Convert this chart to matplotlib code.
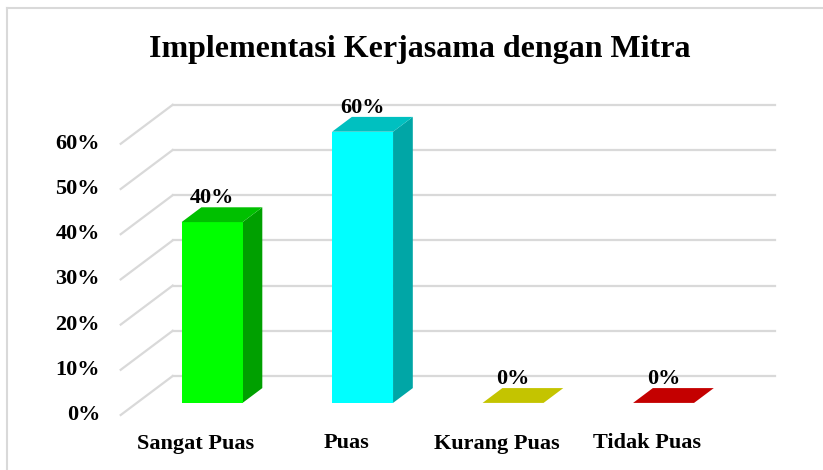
import matplotlib
matplotlib.use("Agg")
import matplotlib.pyplot as plt
from matplotlib.patches import Polygon
from matplotlib.lines import Line2D

# ---- data ----
categories = ["Sangat Puas", "Puas", "Kurang Puas", "Tidak Puas"]
values = [40, 60, 0, 0]
labels = ["40%", "60%", "0%", "0%"]
tick_values = [0, 10, 20, 30, 40, 50, 60]
tick_labels = ["0%", "10%", "20%", "30%", "40%", "50%", "60%"]
title = "Implementasi Kerjasama dengan Mitra"

# ---- style ----
front_colors = ["#00ff00", "#00ffff", "#c8c800", "#e00000"]
side_colors = ["#00a000", "#00a6a6", "#a0a000", "#a00000"]
top_colors = ["#00c000", "#00c0c0", "#c4c400", "#c40000"]
grid_color = "#d9d9d9"
FONT = "Liberation Serif"
FS = 16

W, H = 823, 470
fig = plt.figure(figsize=(W / 100, H / 100), dpi=100)
ax = fig.add_axes([0, 0, 1, 1])

# pixel layout of the plot (floor front-left corner, scales)
X0, Y0 = 120.7, 415.0       # px of (cat 0, value 0, depth 0)
PX_CAT = 150.5              # px per category
PX_PCT = 4.52               # px per percent
ax.set_xlim(-X0 / PX_CAT, (W - X0) / PX_CAT)
ax.set_ylim((Y0 - H) / PX_PCT, Y0 / PX_PCT)
ax.axis("off")

DX = 52.0 / PX_CAT          # depth offset in category units
DY = 39.0 / PX_PCT          # depth offset in percent units
n = len(categories)


def P(x, v, d):
    return (x + d * DX, v + d * DY)


# gridlines: back wall + left side wall
for v in tick_values:
    xs, ys = zip(P(0, v, 1), P(n, v, 1))
    ax.add_line(Line2D(xs, ys, color=grid_color, lw=1.6, zorder=1))
    xs, ys = zip(P(0, v, 0), P(0, v, 1))
    ax.add_line(Line2D(xs, ys, color=grid_color, lw=1.6, zorder=1))

# bars
bw = 0.405
d0, d1 = 0.31, 0.69
for i, v in enumerate(values):
    xl = i + 0.5 - bw / 2
    xr = i + 0.5 + bw / 2
    if v > 0:
        front = [P(xl, 0, d0), P(xr, 0, d0), P(xr, v, d0), P(xl, v, d0)]
        side = [P(xr, 0, d0), P(xr, 0, d1), P(xr, v, d1), P(xr, v, d0)]
        ax.add_patch(Polygon(side, closed=True, fc=side_colors[i], ec="none", zorder=3))
        ax.add_patch(Polygon(front, closed=True, fc=front_colors[i], ec="none", zorder=4))
    top = [P(xl, v, d0), P(xr, v, d0), P(xr, v, d1), P(xl, v, d1)]
    ax.add_patch(Polygon(top, closed=True, fc=top_colors[i], ec="none", zorder=4))
    lx, ly = P(i + 0.5, v, d1)
    ax.text(i + 0.5 + d0 * DX, ly - 0.2, labels[i], ha="center", va="bottom",
            fontsize=FS, fontweight="bold", family=FONT, zorder=5)

# value axis labels (front)
for v, t in zip(tick_values, tick_labels):
    ax.text(-20.7 / PX_CAT, v, t, ha="right", va="center",
            fontsize=FS, fontweight="bold", family=FONT)

# category labels
for i, c in enumerate(categories):
    ax.text(i + 0.5, -28.5 / PX_PCT, c, ha="center", va="center",
            fontsize=FS, fontweight="bold", family=FONT)

# title
fig.text(420 / W, 1 - 50 / H, title, ha="center", va="center",
         fontsize=23, fontweight="bold", family=FONT)

# chart border (light gray)
fig.add_artist(Line2D([7 / W, 7 / W], [0, 1 - 8 / H], color="#d9d9d9", lw=1.5,
                      transform=fig.transFigure))
fig.add_artist(Line2D([7 / W, 1], [1 - 8 / H, 1 - 8 / H], color="#d9d9d9", lw=1.5,
                      transform=fig.transFigure))

fig.savefig("out.png", dpi=100)
